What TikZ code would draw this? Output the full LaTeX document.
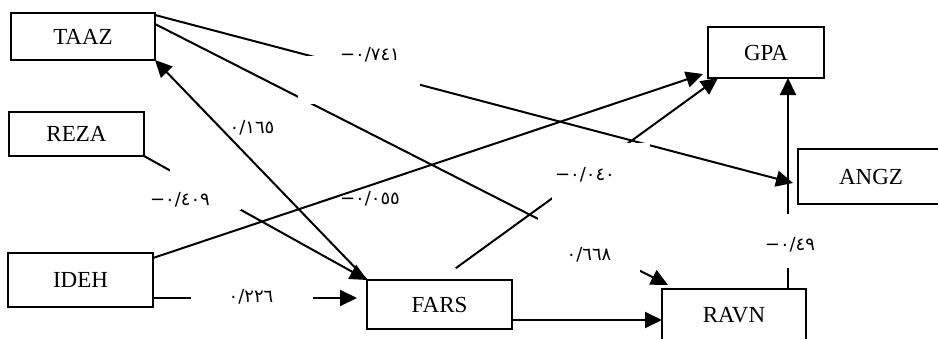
\documentclass[tikz,border=0pt]{standalone}
\usepackage{fontspec}
\setmainfont{Liberation Serif}
\newfontfamily\digfont{DejaVu Sans}
\usepackage{tikz}
\usetikzlibrary{arrows.meta,positioning}

\begin{document}
\begin{tikzpicture}[
    x=0.5pt, y=-0.5pt,
    varnode/.style={draw, line width=1pt, fill=white, inner sep=0pt, outer sep=0pt, font=\fontsize{11.5}{13}\selectfont},
    coefnode/.style={inner sep=0pt, font=\digfont\fontsize{9}{10}\selectfont},
    pathline/.style={-{Triangle[length=8.5pt,width=8pt]}, line width=1pt},
    gapbox/.style={fill=white}
]
\path[fill=white] (0,0) rectangle (938,338);
\useasboundingbox (0,0) rectangle (938,338);

\node[varnode, minimum width=72pt, minimum height=23.5pt] (TAAZ) at (83,36.5) {TAAZ};
\node[varnode, minimum width=67.5pt, minimum height=22pt] (REZA) at (76.5,134) {REZA};
\node[varnode, minimum width=72.5pt, minimum height=27pt] (IDEH) at (80.5,280) {IDEH};
\node[varnode, minimum width=72.5pt, minimum height=24.5pt] (FARS) at (439.5,304.5) {FARS};
\node[varnode, minimum width=72pt, minimum height=26.5pt] (RAVN) at (734,315.5) {RAVN};
\node[varnode, minimum width=58pt, minimum height=25.5pt] (GPA) at (766,52.5) {GPA};
\node[varnode, minimum width=73pt, minimum height=27.5pt] (ANGZ) at (871,176.5) {ANGZ};

\draw[pathline] ([yshift=10.75pt]TAAZ.east) -- ([xshift=-2.5pt,yshift=-3.25pt]ANGZ.west);
\draw[pathline] ([yshift=6.25pt]TAAZ.east) -- ([xshift=3pt,yshift=2pt]RAVN.north west);
\draw[pathline] (FARS.north west) -- (TAAZ.south east);
\draw[pathline] (REZA.south east) -- (FARS.north west);
\draw[pathline, shorten >=5pt] ([yshift=-9pt]IDEH.east) -- ([yshift=-9pt]IDEH.east -| FARS.west);
\draw[pathline] ([yshift=11pt]IDEH.east) -- ([xshift=-2.5pt,yshift=2pt]GPA.south west);
\draw[pathline, shorten <=10pt] (FARS.north) -- ([xshift=5pt]GPA.south west);
\draw[pathline] ([yshift=-7.75pt]FARS.east) -- ([yshift=-7.75pt]FARS.east -| RAVN.west);
\draw[pathline] ([xshift=-9pt]RAVN.north east) -- ([xshift=-9pt]RAVN.north east |- GPA.south);

\fill[gapbox] (298,56) rectangle (420,104);
\fill[gapbox] (170,168) rectangle (241,210);
\fill[gapbox] (191,285) rectangle (313,310);
\fill[gapbox] (552,143) rectangle (650,200);
\fill[gapbox] (538,212) rectangle (640,273);
\fill[gapbox] (770,214) rectangle (810,268);

\node[coefnode] (c1) at (370,55) {−٠/٧٤١};
\node[coefnode] (c2) at (252,128) {٠/١٦٥};
\node[coefnode] (c3) at (180,200) {−٠/٤٠٩};
\node[coefnode] (c4) at (370,199) {−٠/٠٥٥};
\node[coefnode] (c5) at (251,297) {٠/٢٢٦};
\node[coefnode] (c6) at (585,175) {−٠/٠٤٠};
\node[coefnode] (c7) at (589,255) {٠/٦٦٨};
\node[coefnode] (c8) at (790,245) {−٠/٤٩};
\end{tikzpicture}
\end{document}
